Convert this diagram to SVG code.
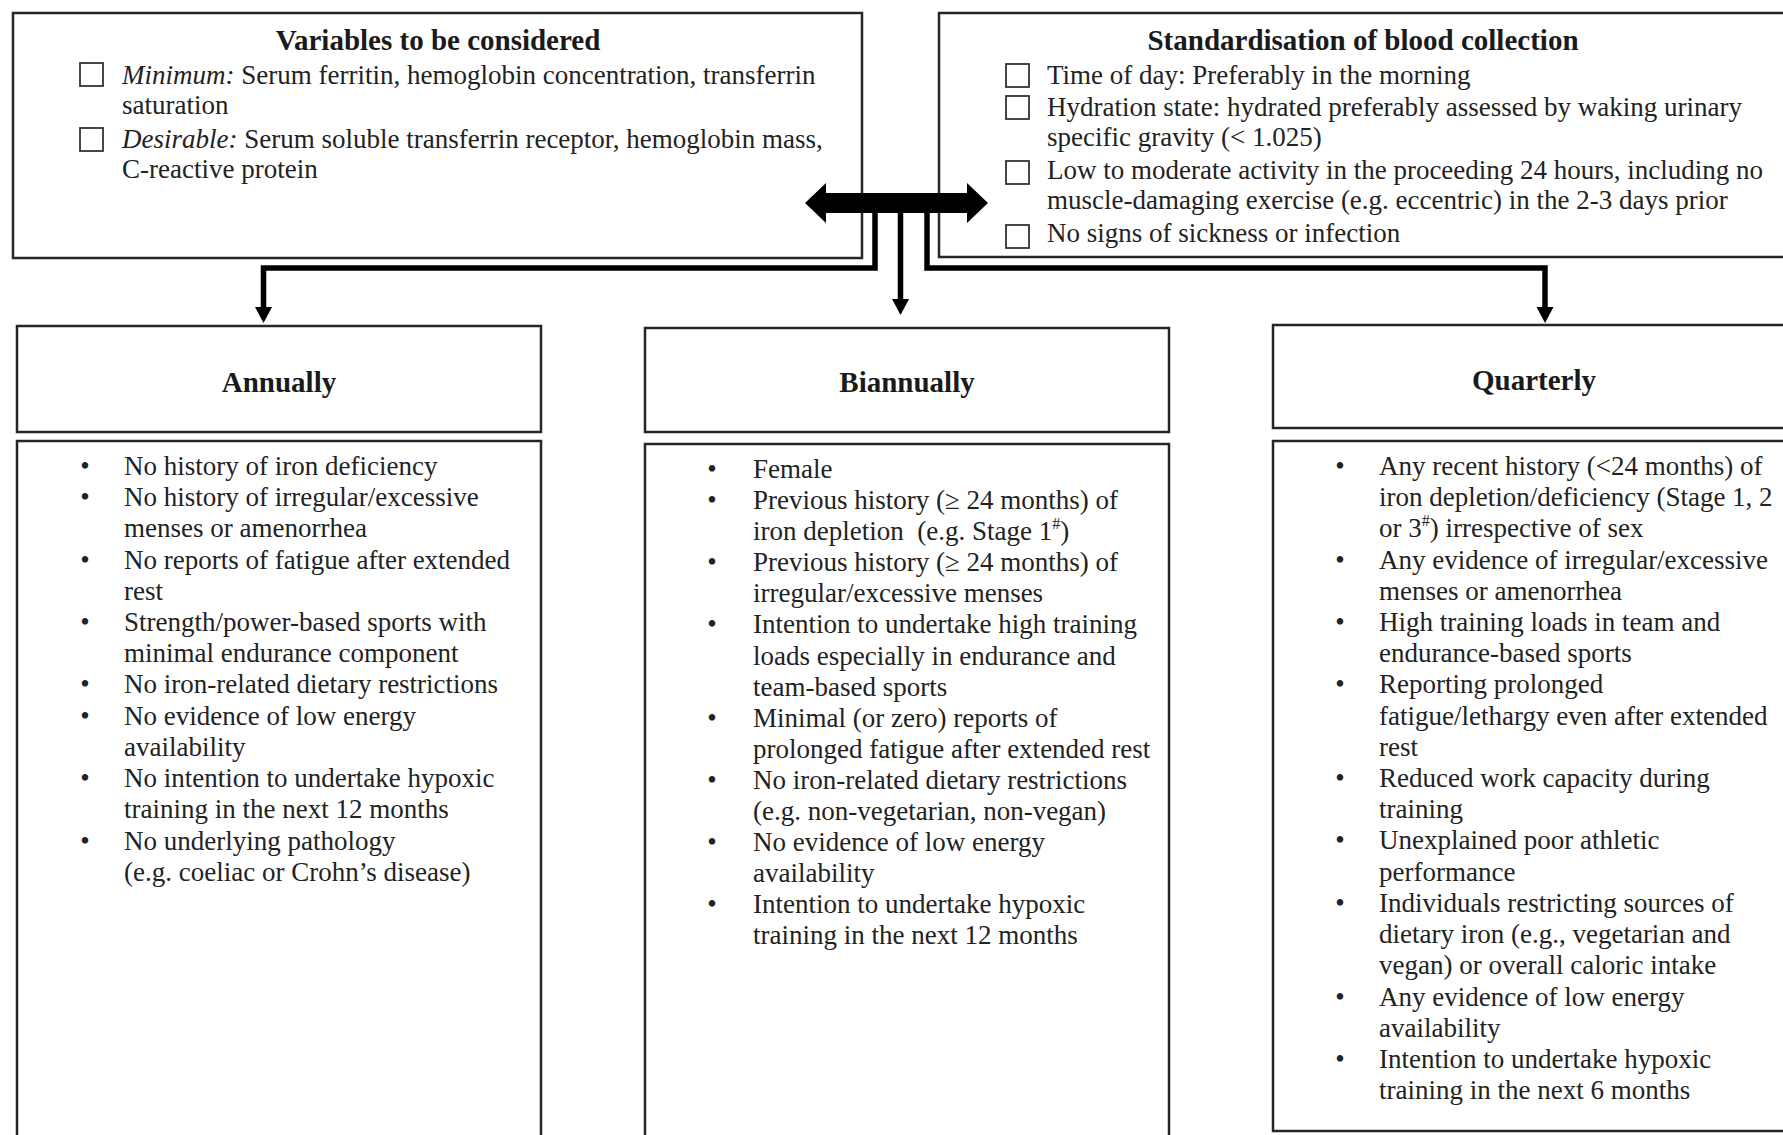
<svg xmlns="http://www.w3.org/2000/svg" width="1783" height="1135" viewBox="0 0 1783 1135">
  <style>
    .box { fill: #ffffff; stroke: #262626; stroke-width: 2.5; }
    .chk { fill: none; stroke: #333333; stroke-width: 1.8; }
    .title { font-family: "Liberation Serif", "Times New Roman", serif; font-size: 29px; font-weight: bold; fill: #1a1a1a; text-anchor: middle; }
    .txt { font-family: "Liberation Serif", "Times New Roman", serif; font-size: 27px; fill: #222222; }
    .bul { font-family: "Liberation Serif", "Times New Roman", serif; font-size: 27px; fill: #222222; text-anchor: middle; }
    .it { font-style: italic; }
    .sup { font-size: 16px; }
    .conn { fill: none; stroke: #000000; stroke-width: 5.5; stroke-linejoin: miter; stroke-linecap: butt; }
    .head { fill: #000000; }
  </style>
  <rect x="0" y="0" width="1783" height="1135" fill="#ffffff"/>

  <!-- Variables box -->
  <g id="variables">
    <rect class="box" x="13" y="13" width="849" height="245"/>
    <text class="title" x="438" y="50">Variables to be considered</text>
    <rect class="chk" x="80" y="63" width="23" height="23"/>
    <text class="txt" x="122" y="84"><tspan class="it">Minimum:</tspan> Serum ferritin, hemoglobin concentration, transferrin</text>
    <text class="txt" x="122" y="114">saturation</text>
    <rect class="chk" x="80" y="128" width="23" height="23"/>
    <text class="txt" x="122" y="148"><tspan class="it">Desirable:</tspan> Serum soluble transferrin receptor, hemoglobin mass,</text>
    <text class="txt" x="122" y="178">C-reactive protein</text>
  </g>

  <!-- Standardisation box -->
  <g id="standardisation">
    <rect class="box" x="939" y="13" width="860" height="244"/>
    <text class="title" x="1363" y="50">Standardisation of blood collection</text>
    <rect class="chk" x="1006" y="64" width="23" height="23"/>
    <text class="txt" x="1047" y="84">Time of day: Preferably in the morning</text>
    <rect class="chk" x="1006" y="96" width="23" height="23"/>
    <text class="txt" x="1047" y="116">Hydration state: hydrated preferably assessed by waking urinary</text>
    <text class="txt" x="1047" y="146">specific gravity (&lt; 1.025)</text>
    <rect class="chk" x="1006" y="161" width="23" height="23"/>
    <text class="txt" x="1047" y="179">Low to moderate activity in the proceeding 24 hours, including no</text>
    <text class="txt" x="1047" y="209">muscle-damaging exercise (e.g. eccentric) in the 2-3 days prior</text>
    <rect class="chk" x="1006" y="225" width="23" height="23"/>
    <text class="txt" x="1047" y="242">No signs of sickness or infection</text>
  </g>

  <!-- Connectors -->
  <g id="connectors">
    <polygon class="head" points="805,203 826,183 826,193 967,193 967,183 988,203 967,223 967,213 826,213 826,223"/>
    <path class="conn" d="M875,212 V268 H263.5 V309"/>
    <polygon class="head" points="255,307 272,307 263.5,323"/>
    <path class="conn" d="M900.5,212 V301"/>
    <polygon class="head" points="892,299 909,299 900.5,315"/>
    <path class="conn" d="M927,212 V268 H1545 V309"/>
    <polygon class="head" points="1536.5,307 1553.5,307 1545,323"/>
  </g>

  <!-- Annually -->
  <g id="annually">
    <rect class="box" x="17" y="326" width="524" height="106"/>
    <text class="title" x="279" y="392">Annually</text>
    <rect class="box" x="17" y="441" width="524" height="710"/>
    <g class="bul">
      <text x="85" y="475">•</text>
      <text x="85" y="506">•</text>
      <text x="85" y="569">•</text>
      <text x="85" y="631">•</text>
      <text x="85" y="693">•</text>
      <text x="85" y="725">•</text>
      <text x="85" y="787">•</text>
      <text x="85" y="850">•</text>
    </g>
    <g class="txt">
      <text x="124" y="475">No history of iron deficiency</text>
      <text x="124" y="506">No history of irregular/excessive</text>
      <text x="124" y="537">menses or amenorrhea</text>
      <text x="124" y="569">No reports of fatigue after extended</text>
      <text x="124" y="600">rest</text>
      <text x="124" y="631">Strength/power-based sports with</text>
      <text x="124" y="662">minimal endurance component</text>
      <text x="124" y="693">No iron-related dietary restrictions</text>
      <text x="124" y="725">No evidence of low energy</text>
      <text x="124" y="756">availability</text>
      <text x="124" y="787">No intention to undertake hypoxic</text>
      <text x="124" y="818">training in the next 12 months</text>
      <text x="124" y="850">No underlying pathology</text>
      <text x="124" y="881">(e.g. coeliac or Crohn’s disease)</text>
    </g>
  </g>

  <!-- Biannually -->
  <g id="biannually">
    <rect class="box" x="645" y="328" width="524" height="104"/>
    <text class="title" x="907" y="392">Biannually</text>
    <rect class="box" x="645" y="444" width="524" height="710"/>
    <g class="bul">
      <text x="712" y="478">•</text>
      <text x="712" y="509">•</text>
      <text x="712" y="571">•</text>
      <text x="712" y="633">•</text>
      <text x="712" y="727">•</text>
      <text x="712" y="789">•</text>
      <text x="712" y="851">•</text>
      <text x="712" y="913">•</text>
    </g>
    <g class="txt">
      <text x="753" y="478">Female</text>
      <text x="753" y="509">Previous history (≥ 24 months) of</text>
      <text x="753" y="540">iron depletion&#160; (e.g. Stage 1<tspan class="sup" dy="-11">#</tspan><tspan dy="11">)</tspan></text>
      <text x="753" y="571">Previous history (≥ 24 months) of</text>
      <text x="753" y="602">irregular/excessive menses</text>
      <text x="753" y="633">Intention to undertake high training</text>
      <text x="753" y="665">loads especially in endurance and</text>
      <text x="753" y="696">team-based sports</text>
      <text x="753" y="727">Minimal (or zero) reports of</text>
      <text x="753" y="758">prolonged fatigue after extended rest</text>
      <text x="753" y="789">No iron-related dietary restrictions</text>
      <text x="753" y="820">(e.g. non-vegetarian, non-vegan)</text>
      <text x="753" y="851">No evidence of low energy</text>
      <text x="753" y="882">availability</text>
      <text x="753" y="913">Intention to undertake hypoxic</text>
      <text x="753" y="944">training in the next 12 months</text>
    </g>
  </g>

  <!-- Quarterly -->
  <g id="quarterly">
    <rect class="box" x="1273" y="325" width="530" height="103"/>
    <text class="title" x="1534" y="390">Quarterly</text>
    <rect class="box" x="1273" y="441" width="530" height="690"/>
    <g class="bul">
      <text x="1340" y="475">•</text>
      <text x="1340" y="569">•</text>
      <text x="1340" y="631">•</text>
      <text x="1340" y="693">•</text>
      <text x="1340" y="787">•</text>
      <text x="1340" y="849">•</text>
      <text x="1340" y="912">•</text>
      <text x="1340" y="1006">•</text>
      <text x="1340" y="1068">•</text>
    </g>
    <g class="txt">
      <text x="1379" y="475">Any recent history (&lt;24 months) of</text>
      <text x="1379" y="506">iron depletion/deficiency (Stage 1, 2</text>
      <text x="1379" y="537">or 3<tspan class="sup" dy="-11">#</tspan><tspan dy="11">) irrespective of sex</tspan></text>
      <text x="1379" y="569">Any evidence of irregular/excessive</text>
      <text x="1379" y="600">menses or amenorrhea</text>
      <text x="1379" y="631">High training loads in team and</text>
      <text x="1379" y="662">endurance-based sports</text>
      <text x="1379" y="693">Reporting prolonged</text>
      <text x="1379" y="725">fatigue/lethargy even after extended</text>
      <text x="1379" y="756">rest</text>
      <text x="1379" y="787">Reduced work capacity during</text>
      <text x="1379" y="818">training</text>
      <text x="1379" y="849">Unexplained poor athletic</text>
      <text x="1379" y="881">performance</text>
      <text x="1379" y="912">Individuals restricting sources of</text>
      <text x="1379" y="943">dietary iron (e.g., vegetarian and</text>
      <text x="1379" y="974">vegan) or overall caloric intake</text>
      <text x="1379" y="1006">Any evidence of low energy</text>
      <text x="1379" y="1037">availability</text>
      <text x="1379" y="1068">Intention to undertake hypoxic</text>
      <text x="1379" y="1099">training in the next 6 months</text>
    </g>
  </g>
</svg>
